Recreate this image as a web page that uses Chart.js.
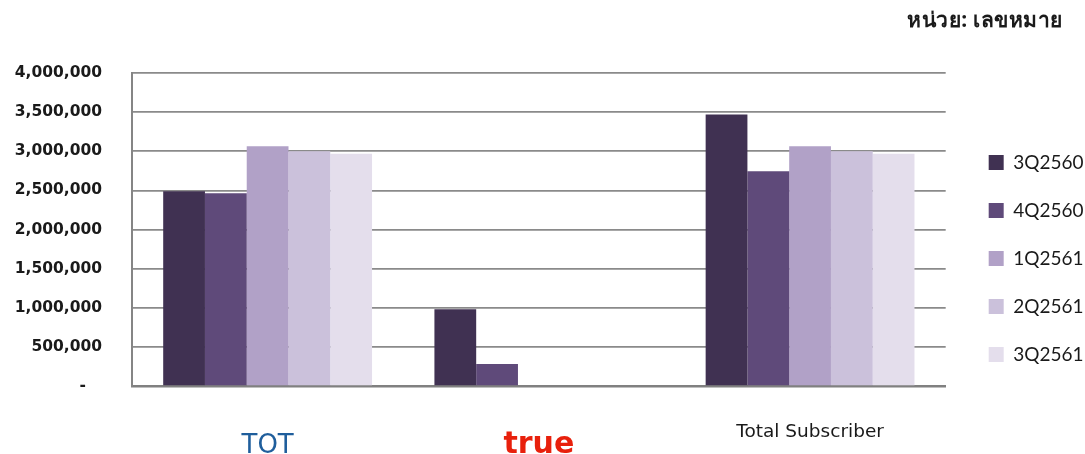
<!DOCTYPE html>
<html><head><meta charset="utf-8">
<script src="https://cdn.jsdelivr.net/npm/chart.js@4/dist/chart.umd.min.js"></script>
<style>
html,body{margin:0;padding:0;background:#fff;overflow:hidden;}
#wrap{position:relative;width:1085px;height:454px;}
#unit{position:absolute;right:22px;top:3px;font:bold 21px "Noto Sans","DejaVu Sans",sans-serif;color:#1a1a1a;letter-spacing:0.5px;}
</style></head><body>
<div id="wrap"><canvas id="c" width="1085" height="454"></canvas><div id="unit">หน่วย: เลขหมาย</div></div>
<script>
const categories = ['TOT', 'true', 'Total Subscriber'];
const seriesNames = ['3Q2560', '4Q2560', '1Q2561', '2Q2561', '3Q2561'];
const q3_2560 = [2490000, 980000, 3470000];
const q4_2560 = [2463000, 280000, 2745000];
const q1_2561 = [3063000, 0, 3063000];
const q2_2561 = [3001000, 0, 3001000];
const q3_2561 = [2968000, 0, 2968000];
const yTickValues = [0, 500000, 1000000, 1500000, 2000000, 2500000, 3000000, 3500000, 4000000];
const yTickLabels = ['-   ', '500,000', '1,000,000', '1,500,000', '2,000,000', '2,500,000', '3,000,000', '3,500,000', '4,000,000'];

const seriesValues = [q3_2560, q4_2560, q1_2561, q2_2561, q3_2561];
const seriesColors = ['#403152', '#5F4A7A', '#B1A1C7', '#CBC1DB', '#E4DEEC'];
const xFonts = [
  {family: '"DejaVu Sans"', size: 26, weight: 'normal', lineHeight: 1.78},
  {family: '"DejaVu Sans"', size: 30, weight: 'bold', lineHeight: 1.46},
  {family: '"DejaVu Sans"', size: 18.5, weight: 'normal', lineHeight: 1.0}
];
const xColors = ['#1F5E9C', '#E8200C', '#1a1a1a'];

const shiftLegend = {
  id: 'shiftLegend',
  afterLayout(chart) {
    const l = chart.legend;
    if (l) { l.left += 14; l.right += 14; l.top -= 5; l.bottom -= 5; }
  }
};

new Chart(document.getElementById('c'), {
  type: 'bar',
  data: {
    labels: categories,
    datasets: seriesNames.map((n, i) => ({
      label: n,
      data: seriesValues[i],
      backgroundColor: seriesColors[i],
      borderWidth: 0,
      categoryPercentage: 0.77,
      barPercentage: 1.0
    }))
  },
  options: {
    responsive: false,
    animation: false,
    layout: {padding: {top: 73, right: 5.5, bottom: 0, left: 0}},
    plugins: {
      tooltip: {enabled: false},
      legend: {
        position: 'right',
        align: 'center',
        labels: {
          boxWidth: 15, boxHeight: 15, padding: 29,
          color: '#1a1a1a',
          font: {family: 'Lato', size: 19, weight: 'normal'}
        }
      }
    },
    scales: {
      x: {
        grid: {display: false, drawTicks: false},
        border: {display: true, color: '#808080', width: 2.5},
        ticks: {
          padding: 37, maxRotation: 0, autoSkip: false,
          color: ctx => xColors[ctx.index],
          font: ctx => xFonts[ctx.index]
        },
        afterFit: s => { s.height = 68; }
      },
      y: {
        min: 0, max: 4000000,
        grid: {color: '#8a8a8a', lineWidth: 1.7, drawTicks: false},
        border: {display: true, color: '#858585', width: 2},
        ticks: {
          stepSize: 500000, padding: 30, color: '#1a1a1a',
          font: {family: '"DejaVu Sans"', size: 15.5, weight: 'bold'},
          callback: v => yTickLabels[yTickValues.indexOf(v)]
        },
        afterFit: s => { s.width = 132; }
      }
    }
  },
  plugins: [shiftLegend]
});
</script>
</body></html>
